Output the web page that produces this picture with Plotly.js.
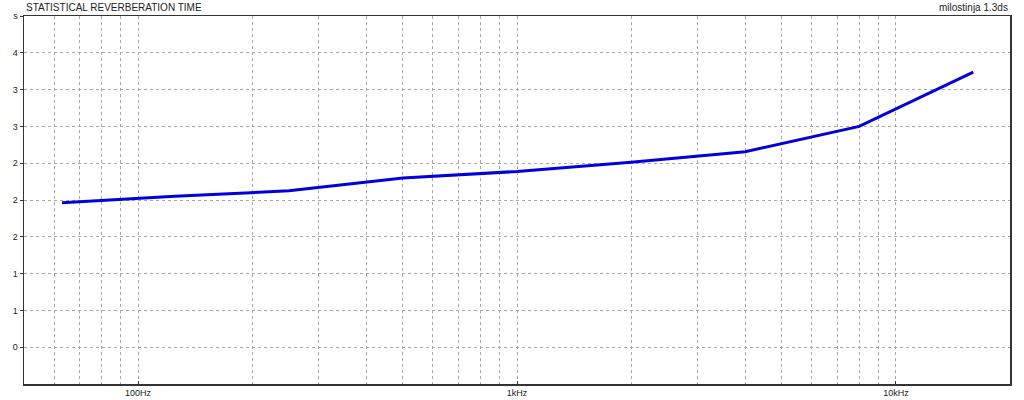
<!DOCTYPE html>
<html>
<head>
<meta charset="utf-8">
<script src="https://cdn.plot.ly/plotly-3.0.1.min.js"></script>
<style>
  html, body { margin: 0; padding: 0; background: #fff; }
  #chart { width: 1024px; height: 400px; }
</style>
</head>
<body>
<div id="chart"></div>
<script>
// Data (octave band centres, reverberation time in seconds)
const frequencies = [63, 125, 250, 500, 1000, 2000, 4000, 8000, 16000];
const reverbTime = [1.97, 2.04, 2.10, 2.24, 2.31, 2.41, 2.525, 2.80, 3.39];

// Axis ticks
const xLabelVals = [100, 1000, 10000];
const xLabelText = ['100Hz', '1kHz', '10kHz'];
const xGridVals = [60, 70, 80, 90, 200, 300, 400, 500, 600, 700, 800, 900,
                   2000, 3000, 4000, 5000, 6000, 7000, 8000, 9000];
const yTickVals = [0.4, 0.8, 1.2, 1.6, 2.0, 2.4, 2.8, 3.2, 3.6, 4.0];
const yTickText = ['0', '1', '1', '2', '2', '2', '3', '3', '4', 's'];

const chartTitle = 'STATISTICAL REVERBERATION TIME';
const fileLabel = 'milostinja 1.3ds';

const gridColor = '#a8a8a8';
const axisColor = '#333333';

const trace = {
  x: frequencies,
  y: reverbTime,
  type: 'scatter',
  mode: 'lines',
  line: { color: '#0000dd', width: 3 },
  hoverinfo: 'x+y'
};

const layout = {
  width: 1024,
  height: 400,
  margin: { l: 24, r: 14, t: 16, b: 16, pad: 0 },
  paper_bgcolor: '#ffffff',
  plot_bgcolor: '#ffffff',
  showlegend: false,
  font: { family: 'Liberation Sans, Arial, sans-serif', size: 9, color: '#222' },
  annotations: [{
    text: chartTitle,
    xref: 'paper', yref: 'paper',
    x: 0, y: 1, xanchor: 'left', yanchor: 'bottom',
    yshift: 1,
    showarrow: false,
    font: { family: 'Liberation Sans, Arial, sans-serif', size: 10, color: '#222' }
  }, {
    text: fileLabel,
    xref: 'paper', yref: 'paper',
    x: 1, y: 1, xanchor: 'right', yanchor: 'bottom',
    yshift: 1,
    showarrow: false,
    font: { family: 'Liberation Sans, Arial, sans-serif', size: 10, color: '#222' }
  }],
  xaxis: {
    type: 'log',
    range: [Math.log10(50), Math.log10(20000)],
    tickmode: 'array',
    tickvals: xLabelVals,
    ticktext: xLabelText,
    ticks: 'inside',
    ticklen: 3,
    tickcolor: axisColor,
    showgrid: true,
    gridcolor: gridColor,
    griddash: 'dot',
    gridwidth: 1,
    minor: {
      tickmode: 'array',
      tickvals: xGridVals,
      showgrid: true,
      gridcolor: gridColor,
      griddash: 'dot',
      gridwidth: 1,
      ticks: ''
    },
    showline: true,
    linecolor: axisColor,
    linewidth: 1.5,
    mirror: true,
    zeroline: false,
    tickfont: { size: 9, color: '#222' }
  },
  yaxis: {
    range: [0, 4.0],
    tickmode: 'array',
    tickvals: yTickVals,
    ticktext: yTickText,
    ticks: 'outside',
    ticklen: 3,
    tickcolor: axisColor,
    showgrid: true,
    gridcolor: gridColor,
    griddash: 'dot',
    gridwidth: 1,
    showline: true,
    linecolor: axisColor,
    linewidth: 1.5,
    mirror: true,
    zeroline: false,
    tickfont: { size: 9, color: '#222' }
  }
};

Plotly.newPlot('chart', [trace], layout, { displayModeBar: false, staticPlot: true });
</script>
</body>
</html>
